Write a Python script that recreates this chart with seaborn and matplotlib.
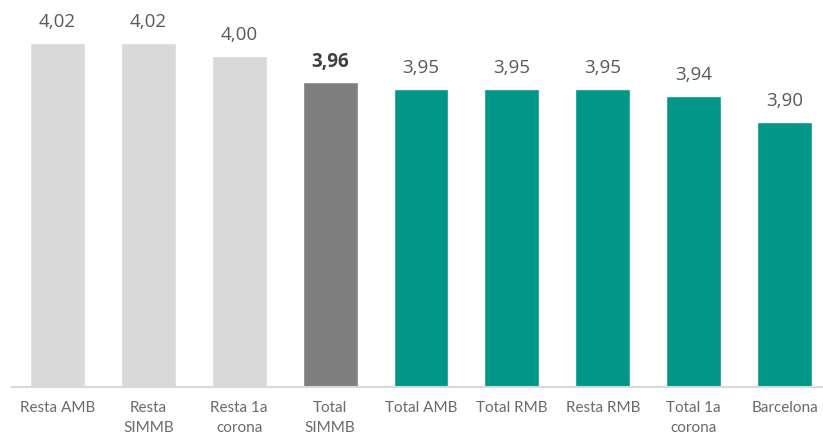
import matplotlib
matplotlib.use("Agg")
import matplotlib.pyplot as plt
import seaborn as sns
import pandas as pd

# Average scores by territory
categories = ["Resta AMB", "Resta\nSIMMB", "Resta 1a\ncorona", "Total\nSIMMB",
              "Total AMB", "Total RMB", "Resta RMB", "Total 1a\ncorona", "Barcelona"]
values = [4.02, 4.02, 4.00, 3.96, 3.95, 3.95, 3.95, 3.94, 3.90]
bar_colors = ["#D9D9D9", "#D9D9D9", "#D9D9D9", "#7F7F7F",
              "#009688", "#009688", "#009688", "#009688", "#009688"]
highlight = "Total\nSIMMB"

df = pd.DataFrame({"territori": categories, "valor": values})

sns.set_theme(style="white")
plt.rcParams["font.family"] = ["Lato", "DejaVu Sans"]

W, H = 823, 438
fig = plt.figure(figsize=(W / 100, H / 100), dpi=100)
ax = fig.add_axes([12 / W, 51 / H, 818 / W, 387 / H])

sns.barplot(data=df, x="territori", y="valor", hue="territori",
            palette=bar_colors, legend=False, width=0.605,
            saturation=1, ax=ax)

ymin = 3.5
ax.set_ylim(ymin, ymin + 387 / 662)
ax.set_xlim(-0.5, 8.5)

for patch, cat, val in zip(ax.patches, categories, values):
    x = patch.get_x() + patch.get_width() / 2
    bold = cat == highlight
    ax.annotate(f"{val:.2f}".replace(".", ","), (x, val),
                xytext=(0, 11.5), textcoords="offset points",
                ha="center", va="baseline", fontsize=13.5,
                fontweight="bold" if bold else "normal",
                color="#404040" if bold else "#595959",
                family=["Open Sans", "DejaVu Sans"])

ax.set_xlabel("")
ax.set_ylabel("")
ax.set_yticks([])
ax.tick_params(axis="x", length=0, pad=10, labelsize=11, labelcolor="#6A6A6A")
for lbl in ax.get_xticklabels():
    lbl.set_linespacing(1.55)
for sp in ["top", "left", "right"]:
    ax.spines[sp].set_visible(False)
ax.spines["bottom"].set_color("#D9D9D9")
ax.spines["bottom"].set_linewidth(1.5)

fig.savefig("out.png", dpi=100)
